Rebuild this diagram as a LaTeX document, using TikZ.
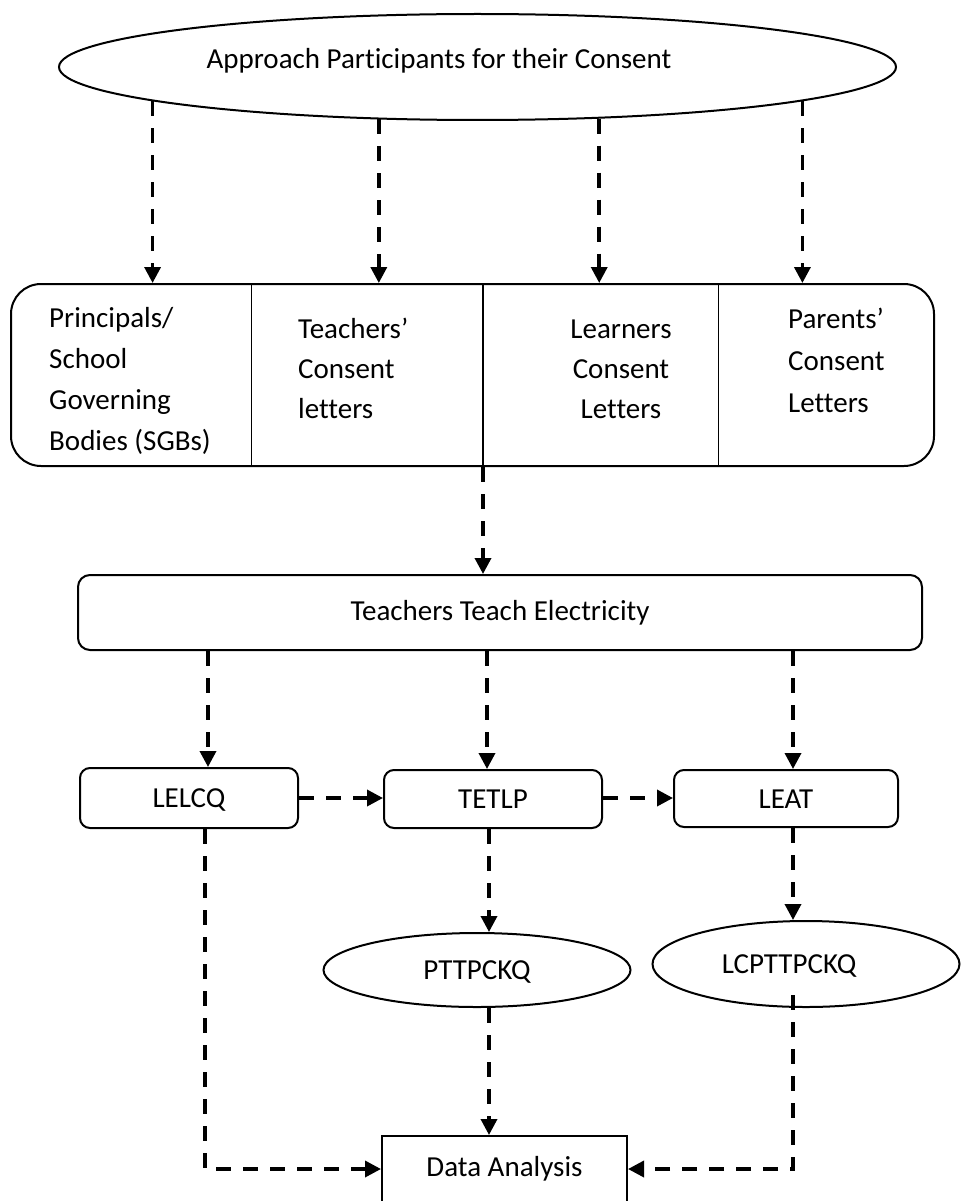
\documentclass[tikz,border=0pt]{standalone}
\usepackage{fontspec}
\setmainfont{Carlito}[Ligatures=NoCommon]
\usetikzlibrary{shapes.geometric,arrows.meta}
\begin{document}
\begin{tikzpicture}[x=1pt,y=-1pt,
  every node/.style={font=\fontsize{29}{41}\selectfont, inner sep=0pt},
  shp/.style={draw, line width=2pt},
  rbox/.style={shp, rectangle, rounded corners=10pt},
  ell/.style={shp, ellipse},
  lbl/.style={anchor=base west},
  capsc/.style={text height=19pt, text depth=0pt},
  arr/.style={line width=3.5pt, dash pattern=on 15pt off 12pt, -{Triangle[length=16pt,width=16pt]}},
  ]
\useasboundingbox (0,0) rectangle (961,1201);
\clip (0,0) rectangle (961,1201);

% top ellipse
\node[ell, minimum width=837pt, minimum height=106pt] (top) at (477.5,67) {};
\node[anchor=base] (toptxt) at (439,69) {Approach Participants for their Consent};

% consent box
\node[shp, rectangle, rounded corners=30pt, minimum width=923pt, minimum height=182pt] (big) at (472.5,375) {};
\coordinate (d1) at (251,0);
\coordinate (d2) at (483,0);
\coordinate (d3) at (718,0);
\draw[line width=1pt] (big.north -| d1) -- (big.south -| d1);
\draw[line width=2pt] (big.north -| d2) -- (big.south -| d2);
\draw[line width=1pt] (big.north -| d3) -- (big.south -| d3);

\node[lbl] (c1a) at (49,327) {Principals/};
\node[lbl] (c1b) at (49,368) {School};
\node[lbl] (c1c) at (49,409) {Governing};
\node[lbl] (c1d) at (49,450) {Bodies (SGBs)};

\node[lbl] (c2a) at (298,338) {Teachers'};
\node[lbl] (c2b) at (298,378) {Consent};
\node[lbl] (c2c) at (298,418) {letters};

\node[anchor=base] (c3a) at (621,338) {Learners};
\node[anchor=base] (c3b) at (621,378) {Consent};
\node[anchor=base] (c3c) at (621,418) {Letters};

\node[lbl] (c4a) at (788,328) {Parents'};
\node[lbl] (c4b) at (788,370) {Consent};
\node[lbl] (c4c) at (788,412) {Letters};

% arrows from top ellipse
\draw[arr] (top.186.1) -- (top.186.1 |- big.north);
\draw[arr] (top.208.4) -- (top.208.4 |- big.north);
\draw[arr] (top.337.5) -- (top.337.5 |- big.north);
\draw[arr] (top.354.55) -- (top.354.55 |- big.north);

% teachers teach electricity
\node[shp, rectangle, rounded corners=12pt, minimum width=844pt, minimum height=75pt] (tte) at (500,612.5) {Teachers Teach Electricity};
\draw[arr] (big.south -| d2) -- (tte.north -| d2);

% instruments
\node[rbox, capsc, minimum width=218pt, minimum height=60pt] (lelcq) at (189,798) {LELCQ};
\node[rbox, capsc, minimum width=218pt, minimum height=58pt] (tetlp) at (493,799) {TETLP};
\node[rbox, capsc, minimum width=224pt, minimum height=57pt] (leat) at (786,798.5) {LEAT};

\coordinate (xa) at (208,0);
\coordinate (xb) at (487,0);
\coordinate (xc) at (793,0);
\coordinate (xl) at (205,0);
\coordinate (xm) at (489,0);

\draw[arr] (tte.south -| xa) -- (lelcq.north -| xa);
\draw[arr] (tte.south -| xb) -- (tetlp.north -| xb);
\draw[arr] (tte.south -| xc) -- (leat.north -| xc);

\draw[arr] (lelcq.east) -- (tetlp.west |- lelcq.east);
\draw[arr] (tetlp.east |- lelcq.east) -- (leat.west |- lelcq.east);

\node[ell, capsc, minimum width=307pt, minimum height=74pt] (pt) at (477,970) {PTTPCKQ};
\node[ell, capsc, minimum width=307pt, minimum height=86pt] (lc) at (806,964) {LCPTTPCKQ\hspace*{34pt}};

\draw[arr] (tetlp.south -| xm) -- (pt.north -| xm);
\draw[arr] (leat.south -| xc) -- (lc.north -| xc);

% data analysis
\node[shp, rectangle, minimum width=245pt, minimum height=66pt] (da) at (504.5,1169) {Data Analysis};
\coordinate (lcs) at (793,995);

\draw[arr] (lelcq.south -| xl) |- (da.west);
\draw[arr] (pt.south -| xm) -- (da.north -| xm);
\draw[arr] (lcs) |- (da.east);
\end{tikzpicture}
\end{document}
